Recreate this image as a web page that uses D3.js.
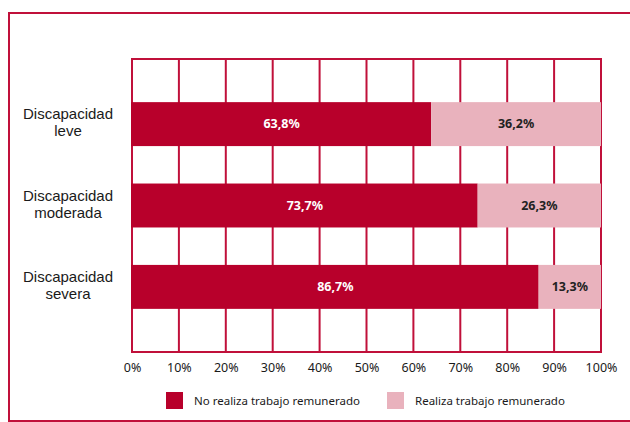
<!DOCTYPE html>
<html><head><meta charset="utf-8">
<script src="https://cdn.jsdelivr.net/npm/d3@7"></script>
<style>body{margin:0;background:#fff}svg{display:block}</style>
</head><body>
<script>
const categories = [["Discapacidad","leve"],["Discapacidad","moderada"],["Discapacidad","severa"]];
const noRealiza = [63.8, 73.7, 86.7];
const realiza = [36.2, 26.3, 13.3];
const seriesNames = ["No realiza trabajo remunerado","Realiza trabajo remunerado"];
const tickValues = [0,10,20,30,40,50,60,70,80,90,100];

const W=630,H=422;
const dark="#B8002B", light="#E9B2BD", lineC="#C0103A";
const font="'Noto Sans', 'Open Sans', sans-serif";
const catFont="'Liberation Sans', Arial, sans-serif";
const svg=d3.select("body").append("svg").attr("width",W).attr("height",H);

// outer frame
svg.append("path").attr("d","M630,13 H9 V421 H630").attr("fill","none").attr("stroke",lineC).attr("stroke-width",2);

const x=d3.scaleLinear().domain([0,100]).range([132,601]);
const keys=categories.map(c=>c.join(" "));
const plotTop=59,plotBottom=352;
const y=d3.scaleBand().domain(keys).range([plotTop,plotBottom]).paddingInner(0.46).paddingOuter(0.53);

// grid
const g=svg.append("g");
g.selectAll("line.v").data(tickValues).join("line")
 .attr("x1",d=>x(d)).attr("x2",d=>x(d)).attr("y1",plotTop).attr("y2",plotBottom)
 .attr("stroke",lineC).attr("stroke-width",2);
[plotTop,plotBottom].forEach(yy=>g.append("line").attr("x1",x(0)-1).attr("x2",x(100)+1).attr("y1",yy).attr("y2",yy).attr("stroke",lineC).attr("stroke-width",2));

// bars
const rows=keys.map((k,i)=>({k,a:noRealiza[i],b:realiza[i]}));
const bars=svg.append("g");
const fmt=v=>v.toFixed(1).replace(".",",")+"%";
rows.forEach(r=>{
  bars.append("rect").attr("x",x(0)-1).attr("y",y(r.k)).attr("width",x(r.a)-x(0)+1).attr("height",y.bandwidth()).attr("fill",dark);
  bars.append("rect").attr("x",x(r.a)).attr("y",y(r.k)).attr("width",x(r.a+r.b)-x(r.a)).attr("height",y.bandwidth()).attr("fill",light);
  bars.append("text").attr("x",(x(0)+x(r.a))/2).attr("y",y(r.k)+y.bandwidth()/2).attr("dy","0.35em")
   .attr("text-anchor","middle").attr("font-family",font).attr("font-weight","bold").attr("font-size",12.5).attr("fill","#fff").text(fmt(r.a));
  bars.append("text").attr("x",(x(r.a)+x(r.a+r.b))/2).attr("y",y(r.k)+y.bandwidth()/2).attr("dy","0.35em")
   .attr("text-anchor","middle").attr("font-family",font).attr("font-weight","bold").attr("font-size",12.5).attr("fill","#222").text(fmt(r.b));
});

// category labels
categories.forEach((c,i)=>{
  const cy=y(keys[i])+y.bandwidth()/2;
  const t=svg.append("text").attr("text-anchor","middle").attr("font-family",catFont).attr("font-size",15).attr("fill","#1a1a1a");
  t.append("tspan").attr("x",68).attr("y",cy-5).text(c[0]);
  t.append("tspan").attr("x",68).attr("y",cy+12).text(c[1]);
});

// x axis
const ax=svg.append("g").attr("transform",`translate(0,${plotBottom})`)
 .call(d3.axisBottom(x).tickValues(tickValues).tickFormat(d=>d+"%").tickSize(0).tickPadding(11));
ax.select(".domain").remove();
ax.selectAll("text").attr("font-family",font).attr("font-size",12.5).attr("fill","#1a1a1a");

// legend
const leg=[{n:seriesNames[0],c:dark,x:166},{n:seriesNames[1],c:light,x:387}];
leg.forEach(l=>{
  svg.append("rect").attr("x",l.x).attr("y",392).attr("width",17).attr("height",17).attr("fill",l.c);
  svg.append("text").attr("x",l.x+28).attr("y",400.5).attr("dy","0.35em").attr("font-family",font).attr("font-size",11.5).attr("fill","#1a1a1a").text(l.n);
});
</script>
</body></html>
